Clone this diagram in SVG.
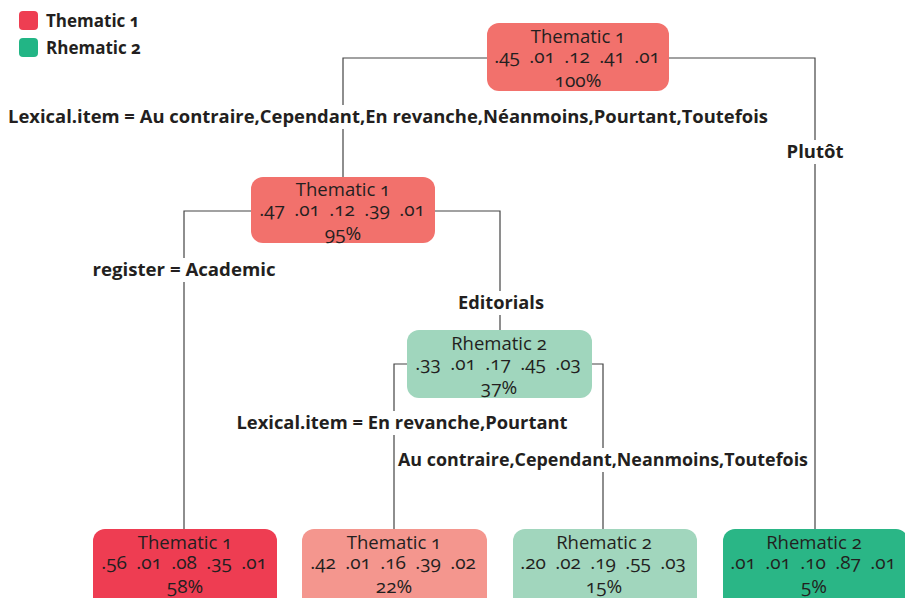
<svg xmlns="http://www.w3.org/2000/svg" width="905" height="598" viewBox="0 0 905 598">
  <style>
    text { font-family: "Open Sans", "Noto Sans", "Liberation Sans", sans-serif; fill: #231f20; }
    .title { font-size: 18.5px; text-anchor: middle; font-variant-numeric: oldstyle-nums; }
    .val { font-size: 19px; text-anchor: middle; font-variant-numeric: oldstyle-nums; }
    .pct { font-size: 19px; text-anchor: middle; font-variant-numeric: oldstyle-nums; }
    .lab { font-size: 17px; font-weight: bold; text-anchor: middle; }
    .leg { font-size: 17px; font-weight: bold; font-variant-numeric: oldstyle-nums; }
    .edge { fill: none; stroke: #444; stroke-width: 1.2; }
    .mask { fill: #fff; }
    .t1 { fill: #f2716c; }
    .r2 { fill: #a0d6bd; }
  </style>

  <!-- legend -->
  <g id="legend">
    <rect x="19" y="11" width="19" height="19" rx="4" fill="#ee3e52"/>
    <text class="leg" x="46" y="27">Thematic 1</text>
    <rect x="19" y="38" width="19" height="19" rx="4" fill="#22b585"/>
    <text class="leg" x="46" y="54">Rhematic 2</text>
  </g>

  <!-- connectors and split labels -->
  <g id="connectors">
    <path class="edge" d="M487 58 H343 V177"/>
    <path class="edge" d="M669 58 H815 V529"/>
    <path class="edge" d="M251 211 H184 V529"/>
    <path class="edge" d="M435 211 H500 V330"/>
    <path class="edge" d="M407 364 H394 V529"/>
    <path class="edge" d="M592 364 H603 V529"/>

    <rect class="mask" x="6" y="105" width="764" height="24"/>
    <text class="lab" x="388" y="123" textLength="760" lengthAdjust="spacingAndGlyphs">Lexical.item = Au contraire,Cependant,En revanche,Néanmoins,Pourtant,Toutefois</text>
    <rect class="mask" x="784" y="140" width="61" height="24"/>
    <text class="lab" x="815" y="158" textLength="57" lengthAdjust="spacingAndGlyphs">Plutôt</text>
    <rect class="mask" x="90" y="258" width="187" height="24"/>
    <text class="lab" x="184" y="276" textLength="183" lengthAdjust="spacingAndGlyphs">register = Academic</text>
    <rect class="mask" x="456" y="291" width="90" height="24"/>
    <text class="lab" x="501" y="309" textLength="86" lengthAdjust="spacingAndGlyphs">Editorials</text>
    <rect class="mask" x="235" y="411" width="335" height="24"/>
    <text class="lab" x="402" y="429" textLength="331" lengthAdjust="spacingAndGlyphs">Lexical.item = En revanche,Pourtant</text>
    <rect class="mask" x="398" y="448" width="412" height="24"/>
    <text class="lab" x="603" y="466" textLength="410" lengthAdjust="spacingAndGlyphs">Au contraire,Cependant,Neanmoins,Toutefois</text>
  </g>

  <!-- root -->
  <g id="node-root">
    <rect class="t1" x="487" y="23" width="182" height="68" rx="12"/>
    <text class="title" x="578" y="43">Thematic 1</text>
    <text class="val" y="63"><tspan x="507">.45</tspan><tspan x="542">.01</tspan><tspan x="577">.12</tspan><tspan x="612">.41</tspan><tspan x="647">.01</tspan></text>
    <text class="pct" x="578" y="87">100%</text>
  </g>

  <g id="node-2">
    <rect class="t1" x="251" y="177" width="184" height="66" rx="12"/>
    <text class="title" x="343" y="196">Thematic 1</text>
    <text class="val" y="216"><tspan x="272">.47</tspan><tspan x="307">.01</tspan><tspan x="342">.12</tspan><tspan x="377">.39</tspan><tspan x="412">.01</tspan></text>
    <text class="pct" x="343" y="240">95%</text>
  </g>

  <g id="node-3">
    <rect class="r2" x="407" y="330" width="185" height="68" rx="12"/>
    <text class="title" x="499" y="350">Rhematic 2</text>
    <text class="val" y="370"><tspan x="428">.33</tspan><tspan x="463">.01</tspan><tspan x="498">.17</tspan><tspan x="533">.45</tspan><tspan x="568">.03</tspan></text>
    <text class="pct" x="499" y="394">37%</text>
  </g>

  <g id="leaf-a">
    <rect x="93" y="529" width="184" height="80" rx="12" fill="#ee3d52"/>
    <text class="title" x="185" y="549">Thematic 1</text>
    <text class="val" y="569"><tspan x="114">.56</tspan><tspan x="149">.01</tspan><tspan x="184">.08</tspan><tspan x="219">.35</tspan><tspan x="254">.01</tspan></text>
    <text class="pct" x="185" y="593">58%</text>
  </g>

  <g id="leaf-b">
    <rect x="302" y="529" width="185" height="80" rx="12" fill="#f4968e"/>
    <text class="title" x="394" y="549">Thematic 1</text>
    <text class="val" y="569"><tspan x="323">.42</tspan><tspan x="358">.01</tspan><tspan x="393">.16</tspan><tspan x="428">.39</tspan><tspan x="463">.02</tspan></text>
    <text class="pct" x="394" y="593">22%</text>
  </g>

  <g id="leaf-c">
    <rect x="513" y="529" width="184" height="80" rx="12" fill="#a1d6bd"/>
    <text class="title" x="604" y="549">Rhematic 2</text>
    <text class="val" y="569"><tspan x="533">.20</tspan><tspan x="568">.02</tspan><tspan x="603">.19</tspan><tspan x="638">.55</tspan><tspan x="673">.03</tspan></text>
    <text class="pct" x="604" y="593">15%</text>
  </g>

  <g id="leaf-d">
    <rect x="723" y="529" width="185" height="80" rx="12" fill="#2ab686"/>
    <text class="title" x="814" y="549">Rhematic 2</text>
    <text class="val" y="569"><tspan x="743">.01</tspan><tspan x="778">.01</tspan><tspan x="813">.10</tspan><tspan x="848">.87</tspan><tspan x="883">.01</tspan></text>
    <text class="pct" x="814" y="593">5%</text>
  </g>
</svg>
